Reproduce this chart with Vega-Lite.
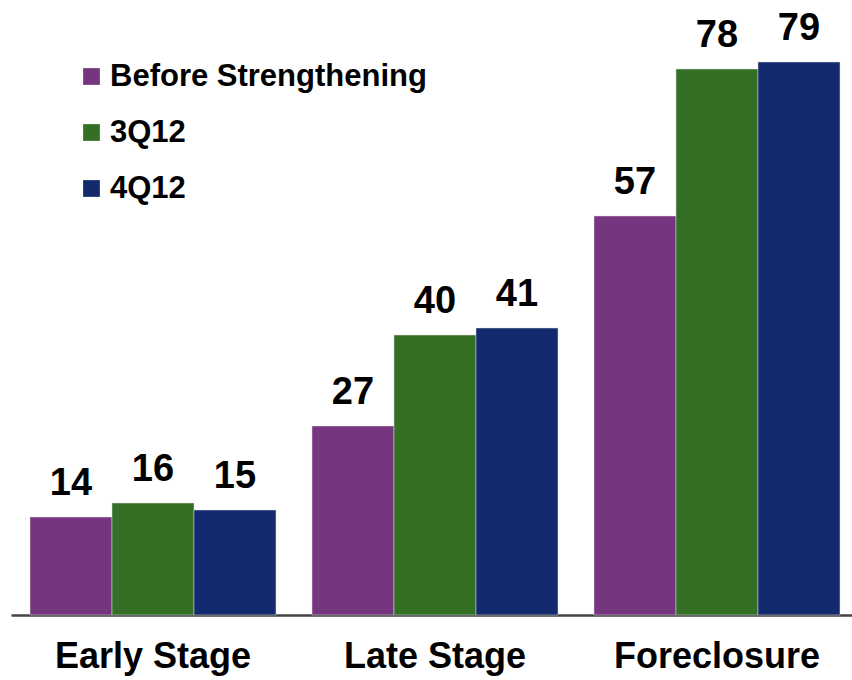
{
  "$schema": "https://vega.github.io/schema/vega-lite/v6.json",
  "width": 848,
  "height": 615,
  "autosize": {"type": "none"},
  "padding": {"left": 11, "top": 0, "right": 0, "bottom": 65},
  "background": "white",
  "config": {
    "view": {"stroke": null},
    "font": "Liberation Sans"
  },
  "data": {
    "values": [
      {"stage": "Early Stage", "series": "Before Strengthening", "value": 14},
      {"stage": "Early Stage", "series": "3Q12", "value": 16},
      {"stage": "Early Stage", "series": "4Q12", "value": 15},
      {"stage": "Late Stage", "series": "Before Strengthening", "value": 27},
      {"stage": "Late Stage", "series": "3Q12", "value": 40},
      {"stage": "Late Stage", "series": "4Q12", "value": 41},
      {"stage": "Foreclosure", "series": "Before Strengthening", "value": 57},
      {"stage": "Foreclosure", "series": "3Q12", "value": 78},
      {"stage": "Foreclosure", "series": "4Q12", "value": 79}
    ]
  },
  "encoding": {
    "x": {
      "field": "stage",
      "type": "nominal",
      "sort": ["Early Stage", "Late Stage", "Foreclosure"],
      "scale": {"paddingInner": 0.1277, "paddingOuter": 0.0674},
      "axis": {
        "title": null,
        "ticks": false,
        "labelAngle": 0,
        "labelFontSize": 36,
        "labelFontWeight": "bold",
        "labelColor": "#000000",
        "labelPadding": 24,
        "labelLimit": 0,
        "domainColor": "#444444",
        "domainWidth": 2.5
      }
    },
    "xOffset": {
      "field": "series",
      "type": "nominal",
      "sort": ["Before Strengthening", "3Q12", "4Q12"],
      "scale": {"paddingInner": 0, "paddingOuter": 0}
    },
    "y": {
      "field": "value",
      "type": "quantitative",
      "scale": {"domain": [0, 87.86], "nice": false, "zero": true},
      "axis": null
    }
  },
  "layer": [
    {
      "mark": {"type": "bar", "stroke": "#dddddd", "strokeWidth": 0.5},
      "encoding": {
        "color": {
          "field": "series",
          "type": "nominal",
          "sort": ["Before Strengthening", "3Q12", "4Q12"],
          "scale": {
            "domain": ["Before Strengthening", "3Q12", "4Q12"],
            "range": ["#76367f", "#337026", "#142a6e"]
          },
          "legend": {
            "title": null,
            "orient": "none",
            "legendX": 65,
            "legendY": 61,
            "symbolType": "square",
            "symbolSize": 280,
            "symbolStrokeWidth": 0,
            "labelFontSize": 31,
            "labelFontWeight": "bold",
            "labelColor": "#000000",
            "labelOffset": 3,
            "rowPadding": 24,
            "labelLimit": 500
          }
        }
      }
    },
    {
      "mark": {
        "type": "text",
        "fontSize": 38,
        "fontWeight": "bold",
        "color": "#000000",
        "baseline": "alphabetic",
        "dy": -22
      },
      "encoding": {
        "text": {"field": "value", "type": "quantitative"}
      }
    }
  ]
}
